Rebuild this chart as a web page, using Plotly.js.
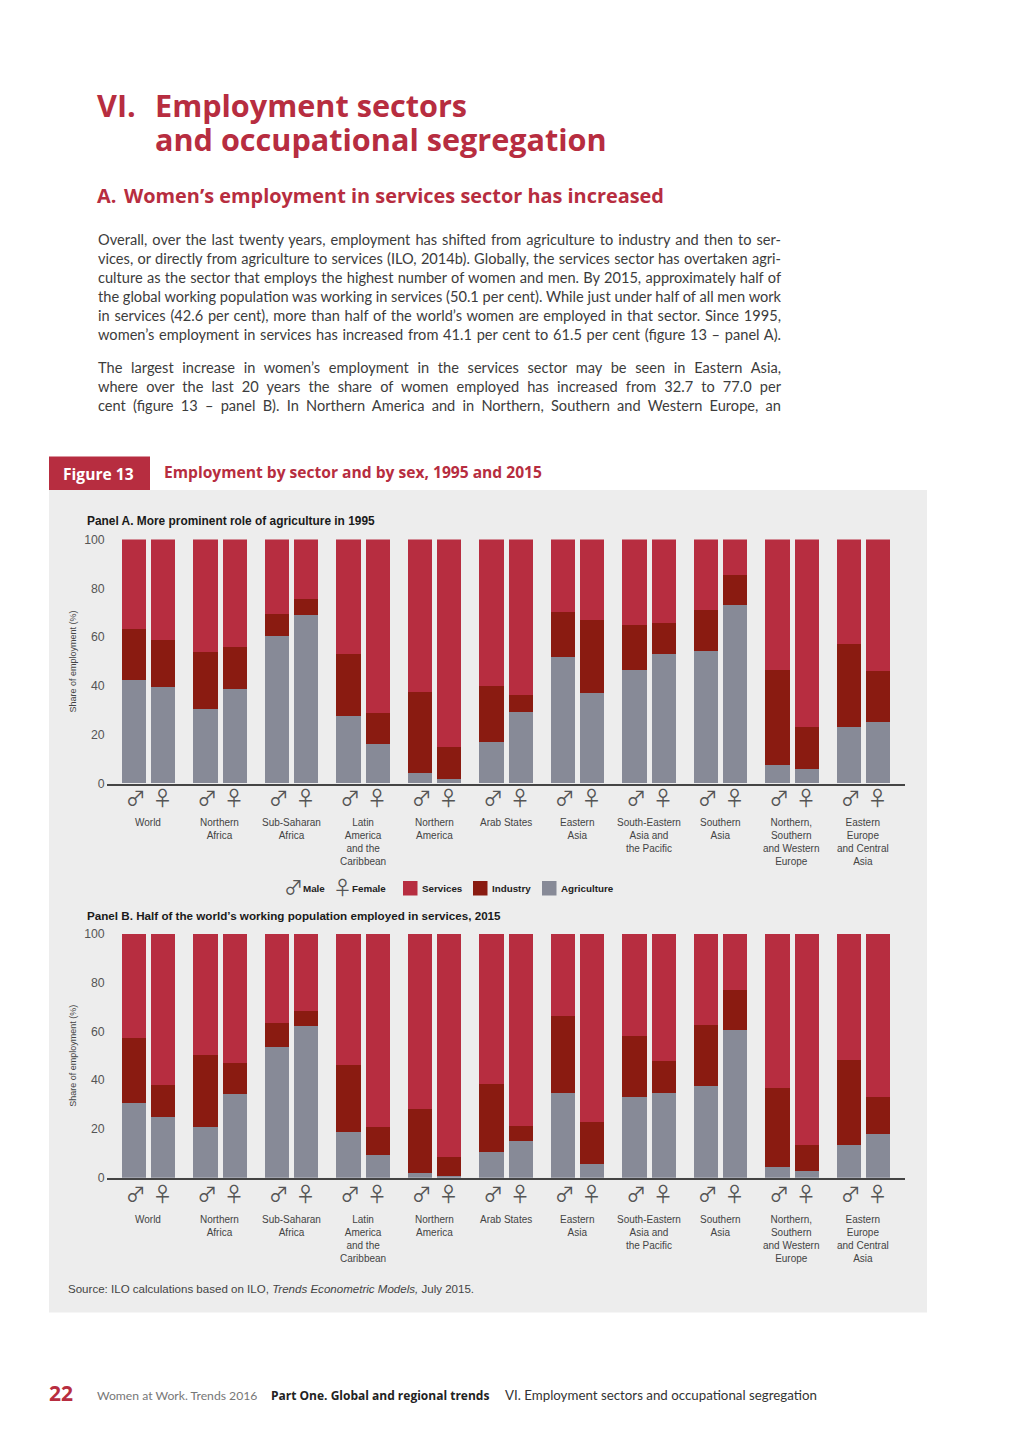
<!DOCTYPE html>
<html>
<head>
<meta charset="utf-8">
<script src="https://cdn.plot.ly/plotly-3.0.1.min.js"></script>
<style>html,body{margin:0;padding:0;background:#fff}#chart{width:1024px;height:1449px}</style>
</head>
<body>
<div id="chart"></div>
<script>
const regions = ["World","Northern<br>Africa","Sub-Saharan<br>Africa","Latin<br>America<br>and the<br>Caribbean","Northern<br>America","Arab States","Eastern<br>Asia","South-Eastern<br>Asia and<br>the Pacific","Southern<br>Asia","Northern,<br>Southern<br>and Western<br>Europe","Eastern<br>Europe<br>and Central<br>Asia"];
const sexSymbols = ["♂","♀"];
const yTicks = [0,20,40,60,80,100];

// Panel A, 1995 — values per region, [male, female]
const agriculture1995 = [[42.2,39.3],[30.6,38.5],[60.4,68.9],[27.7,16.1],[4.1,1.8],[17.1,29.3],[51.7,37.0],[46.2,52.9],[54.0,73.1],[7.4,5.9],[23.1,25.1]];
const industry1995    = [[21.1,19.4],[23.0,17.2],[8.9,6.7],[25.1,12.7],[33.3,12.9],[22.9,7.0],[18.4,30.0],[18.6,12.9],[16.9,12.0],[39.1,17.0],[33.9,20.9]];
const services1995    = [[36.7,41.3],[46.4,44.3],[30.7,24.4],[47.2,71.2],[62.6,85.3],[60.0,63.7],[29.9,33.0],[35.2,34.2],[29.1,14.9],[53.5,77.1],[43.0,54.0]];

// Panel B, 2015
const agriculture2015 = [[30.7,24.9],[20.9,34.3],[53.7,62.2],[19.0,9.3],[2.0,0.7],[10.5,15.2],[34.7,5.9],[33.3,34.7],[37.8,60.7],[4.6,2.7],[13.7,17.9]];
const industry2015    = [[26.5,13.4],[29.4,12.8],[9.8,6.1],[27.2,11.6],[26.4,7.9],[27.9,6.0],[31.6,17.1],[24.8,13.4],[25.0,16.3],[32.4,11.0],[34.8,15.4]];
const services2015    = [[42.8,61.7],[49.7,52.9],[36.5,31.7],[53.8,79.1],[71.6,91.4],[61.6,78.8],[33.7,77.0],[41.9,51.9],[37.2,23.0],[63.0,86.3],[51.5,66.7]];

const sectorNames = ["Agriculture","Industry","Services"];
const sectorColors = ["#878a97","#8a1b11","#b72d40"];

const bodyLines1 = [
 "Overall, over the last twenty years, employment has shifted from agriculture to industry and then to ser-",
 "vices, or directly from agriculture to services (ILO, 2014b). Globally, the services sector has overtaken agri-",
 "culture as the sector that employs the highest number of women and men. By 2015, approximately half of",
 "the global working population was working in services (50.1 per cent). While just under half of all men work",
 "in services (42.6 per cent), more than half of the world’s women are employed in that sector. Since 1995,",
 "women’s employment in services has increased from 41.1 per cent to 61.5 per cent (figure 13 – panel A)."
];
const bodyLines2 = [
 "The largest increase in women’s employment in the services sector may be seen in Eastern Asia,",
 "where over the last 20 years the share of women employed has increased from 32.7 to 77.0 per",
 "cent (figure 13 – panel B). In Northern America and in Northern, Southern and Western Europe, an"
];

const W = 1024, H = 1449;
const px = v => v / W;
const py = v => 1 - v / H;
const NARROW = '"Liberation Sans", sans-serif';
const BODY = 'Lato, sans-serif';
const HEAD = '"Open Sans", sans-serif';
const SYMBOL = '"Noto Sans CJK SC", "DejaVu Sans", sans-serif';
const RED = '#b72d40';

const groupOffset = 0.205, barWidth = 0.341;
const symbolShift = [0.85, 0.97];
const barX = [], tickVals = [], tickText = [];
regions.forEach((r, i) => {
  [-groupOffset, groupOffset].forEach((o, s) => {
    barX.push(i + o); tickVals.push(i + o * symbolShift[s]); tickText.push(sexSymbols[s]);
  });
});

function sectorTraces(series, xa, ya){
  return series.map((vals, k) => ({
    type:'bar', name:sectorNames[k], x:barX, y:vals.flat(), xaxis:xa, yaxis:ya, width:barWidth,
    marker:{color:sectorColors[k], line:{width:0}}, showlegend:false, hoverinfo:'y+name'
  }));
}
const data = [
  ...sectorTraces([agriculture1995,industry1995,services1995],'x','y'),
  ...sectorTraces([agriculture2015,industry2015,services2015],'x2','y2')
];

const annotations = [];
function text(t, x, y, size, color, opts){
  annotations.push(Object.assign({
    text:t, xref:'paper', yref:'paper', x:px(x-2), y:py(y), xanchor:'left', yanchor:'middle',
    showarrow:false, align:'left', font:{size:size, color:color, family:BODY}
  }, opts||{}));
}
function bold(size,color,family){ return {font:{size:size,color:color,family:family||HEAD,weight:700}}; }

text("VI.", 97, 105, 30.6, RED, bold(30.6,RED));
const titleLines = "Employment sectors<br>and occupational segregation";
text(titleLines, 155, 82, 30.6, RED, Object.assign(bold(30.6,RED),{yanchor:'top'}));
text("A.", 97, 196, 19.9, RED, bold(19.9,RED));
text("Women’s employment in services sector has increased", 124, 196, 19.9, RED, bold(19.9,RED));
bodyLines1.forEach((l,i)=>text(l, 97.5, 239.5+i*18.9, 14.6, '#3c3c3c'));
bodyLines2.forEach((l,i)=>text(l, 97.5, 367.5+i*18.9, 14.6, '#3c3c3c'));

text("Figure 13", 63, 473.5, 15.6, '#fff', bold(15.6,'#fff'));
text("Employment by sector and by sex, 1995 and 2015", 164, 472, 15.6, RED, bold(15.6,RED));
text("Panel A. More prominent role of agriculture in 1995", 87, 521, 11.9, '#1a1a1a', {font:{size:11.9,color:'#1a1a1a',family:NARROW,weight:700}});
text("Panel B. Half of the world’s working population employed in services, 2015", 87, 915, 11.65, '#1a1a1a', {font:{size:11.65,color:'#1a1a1a',family:NARROW,weight:700}});
text("Source: ILO calculations based on ILO, <i>Trends Econometric Models,</i> July 2015.", 68, 1289, 11.55, '#444', {font:{size:11.55,color:'#444',family:NARROW}});

regions.forEach((r,i)=>{
  [['x',815.5],['x2',1211.5]].forEach(([xa,top])=>{
    annotations.push({text:r, xref:xa, yref:'paper', x:i, y:py(top), xanchor:'center', yanchor:'top',
      showarrow:false, align:'center', font:{size:10,color:'#444',family:NARROW}});
  });
});

// legend, one key per sex and per sector
const keyBold = s => ({font:{size:s,color:'#222',family:NARROW,weight:700}});
text("♂", 284, 887, 19, '#555', {font:{size:19,color:'#555',family:SYMBOL}});
text("Male", 303, 888, 9.8, '#222', keyBold(9.8));
text("♀", 333, 887, 19, '#555', {font:{size:19,color:'#555',family:SYMBOL}});
text("Female", 352, 888, 9.8, '#222', keyBold(9.8));
const legendSwatchX = [542, 473, 403];
const legendShapes = sectorNames.map((n,k)=>{
  text(n, legendSwatchX[k]+19, 888, 9.8, '#222', keyBold(9.8));
  return {type:'rect',xref:'paper',yref:'paper',x0:px(legendSwatchX[k]),x1:px(legendSwatchX[k]+14.5),y0:py(881),y1:py(895.5),fillcolor:sectorColors[k],line:{width:0}};
});

text("22", 49, 1393, 21, RED, bold(21,RED));
text("Women at Work. Trends 2016", 97, 1395, 12.2, '#777');
text("Part One. Global and regional trends", 271, 1395, 12, '#222', bold(12,'#222'));
text("VI. Employment sectors and occupational segregation", 505, 1395, 13.3, '#333');

const range = [-0.581, 10.587];
function xAxis(anchor, standoff){
  return {range:range, domain:[px(106.7),px(905.3)], anchor:anchor, tickmode:'array', tickvals:tickVals, ticktext:tickText,
    tickfont:{size:20,color:'#555',family:SYMBOL}, ticks:'', ticklen:0, ticklabelstandoff:standoff, showgrid:false, zeroline:false,
    showline:true, linecolor:'#444', linewidth:1.5, tickangle:0, fixedrange:true, automargin:false};
}
function yAxis(anchor, top, bottom){
  return {range:[0,100], domain:[py(bottom),py(top)], anchor:anchor, tickmode:'array', tickvals:yTicks, ticks:'', ticklabelstandoff:1,
    tickfont:{size:12.3,color:'#555',family:NARROW}, showgrid:false, zeroline:false, showline:false, fixedrange:true, automargin:false,
    title:{text:"Share of employment (%)", font:{size:9,color:'#444',family:NARROW}, standoff:6}};
}

const layout = {
  width:W, height:H, margin:{l:0,r:0,t:0,b:0}, paper_bgcolor:'#fff', plot_bgcolor:'rgba(0,0,0,0)',
  barmode:'stack', bargap:0, showlegend:false,
  xaxis:xAxis('y',-3), yaxis:yAxis('x',539.4,783.7),
  xaxis2:xAxis('y2',-1), yaxis2:yAxis('x2',933.7,1177.7),
  annotations:annotations,
  shapes:[
    {type:'rect',xref:'paper',yref:'paper',x0:px(49),x1:px(927),y0:py(490),y1:py(1312.5),fillcolor:'#ededed',line:{width:0},layer:'below'},
    {type:'rect',xref:'paper',yref:'paper',x0:px(49),x1:px(150),y0:py(456.5),y1:py(490),fillcolor:RED,line:{width:0},layer:'below'},
    ...legendShapes
  ]
};
const justifiedLines = bodyLines1.concat(bodyLines2);
const justifiedWidth = 683;
const titleLeading = 34;
Plotly.newPlot('chart', data, layout, {displayModeBar:false, responsive:false}).then(gd => {
  gd.querySelectorAll('text.annotation-text').forEach(el => {
    const t = el.textContent;
    if (justifiedLines.includes(t)) {
      const gaps = t.split(' ').length - 1;
      el.style.wordSpacing = ((justifiedWidth - el.getComputedTextLength()) / gaps) + 'px';
    }
    if (t.startsWith('Employment sectors') && el.querySelectorAll('tspan.line').length === 2) {
      el.querySelectorAll('tspan.line')[1].setAttribute('dy', titleLeading + 'px');
    }
  });
});
</script>
</body>
</html>
